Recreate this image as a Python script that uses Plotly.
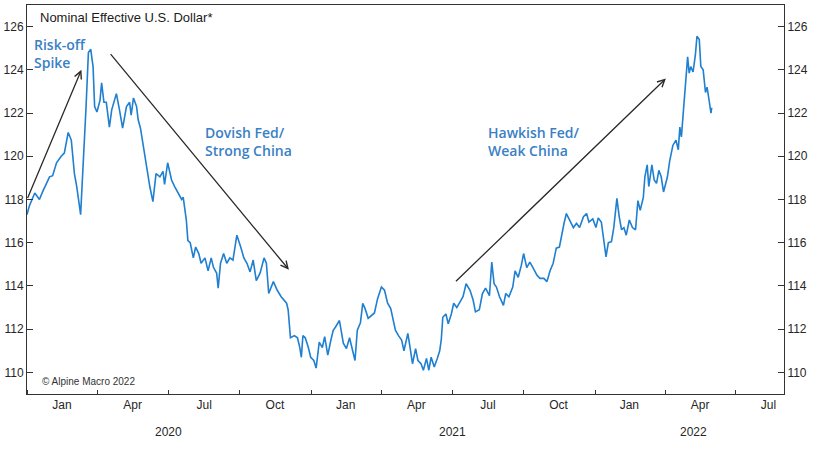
import plotly.graph_objects as go

dates = [
"2020-01-01","2020-01-04","2020-01-11","2020-01-17","2020-01-21","2020-01-30","2020-02-03","2020-02-08",
"2020-02-14","2020-02-18","2020-02-23","2020-02-27","2020-03-02","2020-03-05","2020-03-10","2020-03-13",
"2020-03-17","2020-03-20","2020-03-23","2020-03-26","2020-03-28","2020-03-31","2020-04-04","2020-04-06",
"2020-04-09","2020-04-12","2020-04-16","2020-04-19","2020-04-25","2020-04-29","2020-05-03","2020-05-08",
"2020-05-12","2020-05-14","2020-05-17","2020-05-21","2020-05-23","2020-05-26","2020-05-30","2020-06-03",
"2020-06-07","2020-06-11","2020-06-15","2020-06-20","2020-06-24","2020-06-26","2020-06-30","2020-07-05",
"2020-07-09","2020-07-13","2020-07-18","2020-07-20","2020-07-24","2020-07-26","2020-07-29","2020-08-02",
"2020-08-05","2020-08-09","2020-08-12","2020-08-17","2020-08-21","2020-08-25","2020-08-28","2020-09-01",
"2020-09-03","2020-09-06","2020-09-10","2020-09-14","2020-09-18","2020-09-22","2020-09-27","2020-10-02",
"2020-10-06","2020-10-10","2020-10-14","2020-10-18","2020-10-22","2020-10-27","2020-11-01","2020-11-04",
"2020-11-07","2020-11-13","2020-11-18","2020-11-23","2020-11-30","2020-12-02","2020-12-05","2020-12-10",
"2020-12-14","2020-12-17","2020-12-19","2020-12-21","2020-12-24","2020-12-28","2020-12-31","2021-01-04",
"2021-01-07","2021-01-11","2021-01-15","2021-01-18","2021-01-22","2021-01-26","2021-01-29","2021-02-01",
"2021-02-06","2021-02-11","2021-02-15","2021-02-19","2021-02-22","2021-02-26","2021-03-01","2021-03-05",
"2021-03-08","2021-03-11","2021-03-15","2021-03-19","2021-03-23","2021-03-27","2021-04-01","2021-04-05",
"2021-04-09","2021-04-13","2021-04-16","2021-04-19","2021-04-23","2021-04-27","2021-04-30","2021-05-05",
"2021-05-07","2021-05-11","2021-05-15","2021-05-18","2021-05-22","2021-05-25","2021-05-29","2021-06-01",
"2021-06-04","2021-06-08","2021-06-12","2021-06-15","2021-06-17","2021-06-19","2021-06-23","2021-06-26",
"2021-06-30","2021-07-03","2021-07-07","2021-07-11","2021-07-15","2021-07-19","2021-07-24","2021-07-28",
"2021-07-31","2021-08-05","2021-08-09","2021-08-13","2021-08-18","2021-08-21","2021-08-24","2021-08-27",
"2021-08-31","2021-09-05","2021-09-08","2021-09-12","2021-09-17","2021-09-20","2021-09-24","2021-09-28",
"2021-10-01","2021-10-05","2021-10-09","2021-10-13","2021-10-18","2021-10-22","2021-10-27","2021-10-31",
"2021-11-04","2021-11-08","2021-11-12","2021-11-16","2021-11-19","2021-11-22","2021-11-25","2021-11-29",
"2021-12-04","2021-12-08","2021-12-12","2021-12-17","2021-12-21","2021-12-24","2021-12-29","2022-01-02",
"2022-01-05","2022-01-09","2022-01-12","2022-01-15","2022-01-18","2022-01-22","2022-01-25","2022-01-29",
"2022-02-01","2022-02-04","2022-02-07","2022-02-10","2022-02-14","2022-02-18","2022-02-22","2022-02-25",
"2022-02-28","2022-03-04","2022-03-06","2022-03-09","2022-03-11","2022-03-15","2022-03-18","2022-03-21",
"2022-03-24","2022-03-27","2022-03-30","2022-04-04","2022-04-07","2022-04-11","2022-04-15","2022-04-18",
"2022-04-20","2022-04-22","2022-04-25","2022-04-28","2022-04-30","2022-05-02","2022-05-04","2022-05-07",
"2022-05-10","2022-05-12","2022-05-15","2022-05-17","2022-05-20","2022-05-23","2022-05-25","2022-05-28",
"2022-05-30","2022-05-31",
]

usd_index = [
117.3,117.7,118.3,118.0,118.35,119.05,119.1,119.7,
120.0,120.15,121.1,120.75,119.2,118.6,117.3,119.2,
122.3,124.8,124.95,124.15,122.3,122.05,122.6,123.4,
122.5,122.5,121.35,122.15,122.9,122.15,121.3,122.3,
122.5,121.9,122.7,122.3,121.7,121.3,120.3,119.5,
118.6,117.9,119.2,119.05,119.3,118.7,119.7,118.9,
118.6,118.3,118.0,118.1,117.05,116.1,116.0,115.3,
115.8,115.5,115.05,115.3,114.7,115.3,114.85,114.6,
113.9,115.05,115.5,115.05,115.3,115.2,116.35,115.8,
115.3,115.05,114.65,115.2,114.25,114.6,115.3,115.05,
113.65,114.2,113.8,113.5,113.2,112.9,111.6,111.7,
111.6,111.15,110.7,111.7,111.6,111.15,110.7,110.55,
110.2,111.4,111.15,111.65,110.8,111.5,111.95,112.1,
112.4,111.35,111.1,111.6,111.1,110.55,111.95,112.3,
113.2,112.95,112.5,112.65,112.75,113.4,113.95,113.8,
113.2,112.95,112.5,111.95,111.7,111.5,111.0,111.8,
111.35,110.4,111.1,110.55,110.4,110.1,110.65,110.1,
110.7,110.25,110.65,111.0,111.5,112.55,112.7,112.25,
112.7,113.2,113.0,113.25,113.5,114.1,113.8,113.35,
112.8,112.9,113.65,113.9,113.55,115.1,114.1,113.95,
113.5,113.1,113.65,113.5,113.95,114.7,114.4,114.95,
115.5,114.85,115.1,114.85,114.5,114.35,114.35,114.2,
114.7,115.05,115.75,115.8,116.45,116.9,117.35,117.05,
116.7,116.9,116.7,117.2,117.35,116.95,117.1,116.7,
117.15,116.95,116.1,115.35,116.0,116.05,116.7,118.05,
117.2,116.6,116.7,116.35,117.05,116.7,116.6,117.95,
117.5,118.1,119.05,119.6,118.6,119.6,118.9,118.75,
119.35,119.05,118.35,119.05,119.8,120.5,120.75,120.3,
121.35,120.9,122.3,123.7,124.6,123.85,124.15,123.9,
124.7,125.55,125.4,124.15,124.0,122.95,123.2,122.5,
122.0,122.25,
]

y_ticks = [110, 112, 114, 116, 118, 120, 122, 124, 126]
month_labels = ["Jan", "Apr", "Jul", "Oct", "Jan", "Apr", "Jul", "Oct", "Jan", "Apr", "Jul"]
month_label_dates = ["2020-02-15", "2020-05-16", "2020-08-16", "2020-11-15",
                     "2021-02-14", "2021-05-16", "2021-08-16", "2021-11-15",
                     "2022-02-14", "2022-05-16", "2022-08-12"]
year_labels = ["2020", "2021", "2022"]
year_label_dates = ["2020-07-01", "2021-07-02", "2022-05-08"]

LINE = "#1f7fd0"
TXT_BLUE = "#3a80c4"
AX = "#333333"

fig = go.Figure()
fig.add_trace(go.Scatter(x=dates, y=usd_index, mode="lines",
                         line=dict(color=LINE, width=1.6), showlegend=False,
                         hoverinfo="x+y"))
fig.add_trace(go.Scatter(x=dates[:1], y=usd_index[:1], mode="markers", yaxis="y2",
                         marker=dict(opacity=0), showlegend=False, hoverinfo="skip"))

tick_font = dict(family="Liberation Sans, Arial", size=12, color="#262626")

fig.update_layout(
    width=816, height=450,
    margin=dict(l=27, r=32, t=5, b=56),
    paper_bgcolor="white", plot_bgcolor="white",
    xaxis=dict(type="date", range=["2020-01-01", "2022-09-01"],
               tickvals=month_label_dates, ticktext=month_labels, ticks="",
               minor=dict(dtick="M3", tick0="2020-01-01", ticks="inside", ticklen=4,
                          tickcolor=AX, showgrid=False),
               showline=True, linecolor=AX, linewidth=1,
               mirror=True, showgrid=False, zeroline=False,
               tickfont=tick_font),
    yaxis=dict(range=[109, 127], tickvals=y_ticks, ticks="inside", ticklen=6,
               tickcolor=AX, showline=True, linecolor=AX, linewidth=1,
               showgrid=False, zeroline=False, tickfont=tick_font),
    yaxis2=dict(range=[109, 127], tickvals=y_ticks, ticks="inside", ticklen=6,
                tickcolor=AX, showline=True, linecolor=AX, linewidth=1,
                overlaying="y", side="right", showgrid=False, zeroline=False,
                tickfont=tick_font),
)

anns = []
for lbl, d in zip(year_labels, year_label_dates):
    anns.append(dict(x=d, y=-0.098, xref="x", yref="paper", text=lbl,
                     showarrow=False, font=tick_font, xanchor="center", yanchor="middle"))

anns.append(dict(x=0.0145, y=0.967, xref="paper", yref="paper",
                 text="Nominal Effective U.S. Dollar*", showarrow=False,
                 xanchor="left", yanchor="middle",
                 font=dict(family="Liberation Sans, Arial", size=13, color="#1a1a1a")))
anns.append(dict(x=0.0172, y=0.031, xref="paper", yref="paper",
                 text="© Alpine Macro 2022", showarrow=False,
                 xanchor="left", yanchor="middle",
                 font=dict(family="Liberation Sans, Arial", size=10, color="#333333")))

label_font = dict(family="Open Sans", size=14, color=TXT_BLUE, weight=600)
anns.append(dict(x="2020-01-08", y=124.77, xref="x", yref="y", text="Risk-off<br>Spike",
                 showarrow=False, xanchor="left", yanchor="middle", align="left", font=label_font))
anns.append(dict(x="2020-08-15", y=120.69, xref="x", yref="y", text="Dovish Fed/<br>Strong China",
                 showarrow=False, xanchor="left", yanchor="middle", align="left", font=label_font))
anns.append(dict(x="2021-08-13", y=120.69, xref="x", yref="y", text="Hawkish Fed/<br>Weak China",
                 showarrow=False, xanchor="left", yanchor="middle", align="left", font=label_font))

arrows = [
    (("2020-01-01", 118.0), ("2020-03-11", 124.0)),
    (("2020-04-16", 124.8), ("2020-12-03", 114.75)),
    (("2021-07-04", 114.15), ("2022-04-02", 123.6)),
]
for (tx, ty), (hx, hy) in arrows:
    anns.append(dict(x=hx, y=hy, ax=tx, ay=ty, xref="x", yref="y", axref="x", ayref="y",
                     text="", showarrow=True, arrowhead=5, arrowsize=1.1,
                     arrowwidth=1.3, arrowcolor="#2a2a2a", standoff=0))

fig.update_layout(annotations=anns)
fig.write_html("out.html", config={"displayModeBar": False},
               post_script="document.body.style.margin='0px';")
